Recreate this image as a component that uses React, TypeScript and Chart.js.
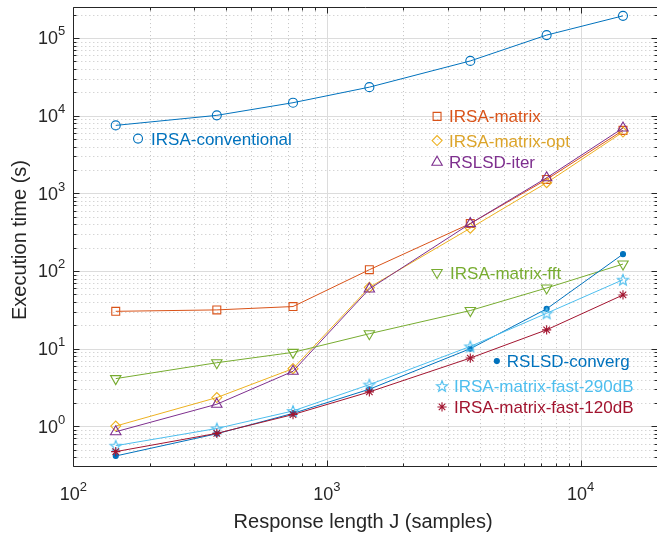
import { useEffect, useRef } from 'react';
import { Chart, registerables } from 'chart.js';
import { drawPoint } from 'chart.js/helpers';

Chart.register(...registerables);

// ---------------- data ----------------
const responseLengths = [147, 368, 735, 1470, 3675, 7350, 14700];

const irsaConventional = [7500, 10100, 14700, 23300, 50700, 109000, 193000];
const irsaMatrix = [30.3, 31.6, 34.9, 104, 408, 1510, 6470];
const irsaMatrixOpt = [1.01, 2.35, 5.54, 61.6, 356, 1370, 6160];
const rslsdIter = [0.853, 1.93, 5.12, 58.8, 408, 1585, 6930];
const irsaMatrixFft = [4.12, 6.6, 8.97, 15.6, 31, 60.5, 123];
const rslsdConverg = [0.416, 0.804, 1.47, 3.01, 10, 32.6, 165];
const irsaMatrixFast290 = [0.564, 0.94, 1.58, 3.45, 10.7, 28.6, 77.3];
const irsaMatrixFast120 = [0.473, 0.813, 1.42, 2.78, 7.58, 17.5, 49.2];

const seriesNames = [
  'IRSA-conventional',
  'IRSA-matrix',
  'IRSA-matrix-opt',
  'RSLSD-iter',
  'IRSA-matrix-fft',
  'RSLSD-converg',
  'IRSA-matrix-fast-290dB',
  'IRSA-matrix-fast-120dB',
];
const seriesValues = [
  irsaConventional,
  irsaMatrix,
  irsaMatrixOpt,
  rslsdIter,
  irsaMatrixFft,
  rslsdConverg,
  irsaMatrixFast290,
  irsaMatrixFast120,
];
const seriesColors = ['#0072BD', '#D95319', '#EDB120', '#7E2F8E', '#77AC30', '#0072BD', '#4DBEEE', '#A2142F'];
const labelColors = ['#0072BD', '#D95319', '#DCA42A', '#7E2F8E', '#77AC30', '#0072BD', '#4DBEEE', '#A2142F'];

// in-plot labels (anchor of the marker glyph, in data coordinates)
const labelX = [180, 2718, 2718, 2718, 2718, 4677, 2843, 2843];
const labelY = [5070, 9795, 4780, 2518, 95.9, 6.93, 3.31, 1.78];
const labelGap = [13, 12, 12, 12, 13, 10, 12, 12];

// axis range and ticks
const xMin = 100;
const xMax = 20000;
const yMin = 0.3;
const yMax = 250000;
const xMajorTicks = [100, 1000, 10000];
const xMinorTicks = [200, 300, 400, 500, 600, 700, 800, 900, 2000, 3000, 4000, 5000, 6000, 7000, 8000, 9000, 20000];
const xTickExponents = [2, 3, 4];
const yMajorTicks = [1, 10, 100, 1000, 10000, 100000];
const yMinorTicks = [
  0.4, 0.5, 0.6, 0.7, 0.8, 0.9,
  2, 3, 4, 5, 6, 7, 8, 9,
  20, 30, 40, 50, 60, 70, 80, 90,
  200, 300, 400, 500, 600, 700, 800, 900,
  2000, 3000, 4000, 5000, 6000, 7000, 8000, 9000,
  20000, 30000, 40000, 50000, 60000, 70000, 80000, 90000,
  200000,
];
const yTickExponents = [0, 1, 2, 3, 4, 5];

const FONT = '"Liberation Sans", Arial, Helvetica, sans-serif';

function makePentagram(color: string, R: number): HTMLCanvasElement {
  const size = 16;
  const c = document.createElement('canvas');
  c.width = size;
  c.height = size;
  const g = c.getContext('2d')!;
  const cx = size / 2;
  const cy = size / 2 + 0.5;
  const r = R * 0.42;
  g.beginPath();
  for (let i = 0; i < 10; i++) {
    const ang = -Math.PI / 2 + (i * Math.PI) / 5;
    const rr = i % 2 === 0 ? R : r;
    const px = cx + rr * Math.cos(ang);
    const py = cy + rr * Math.sin(ang);
    if (i === 0) g.moveTo(px, py);
    else g.lineTo(px, py);
  }
  g.closePath();
  g.strokeStyle = color;
  g.lineWidth = 1.1;
  g.stroke();
  return c;
}

type MarkerSpec = { style: any; radius: number; rotation: number; filled: boolean };

export default function App() {
  const ref = useRef<HTMLCanvasElement | null>(null);

  useEffect(() => {
    const canvas = ref.current;
    if (!canvas) return;

    const markers: MarkerSpec[] = [
      { style: 'circle', radius: 4.5, rotation: 0, filled: false },
      { style: 'rect', radius: 5.6, rotation: 0, filled: false },
      { style: 'rectRot', radius: 5, rotation: 0, filled: false },
      { style: 'triangle', radius: 6, rotation: 0, filled: false },
      { style: 'triangle', radius: 6, rotation: 180, filled: false },
      { style: 'circle', radius: 2.5, rotation: 0, filled: true },
      { style: makePentagram(seriesColors[6], 5.8), radius: 5.5, rotation: 0, filled: false },
      { style: 'star', radius: 4.6, rotation: 0, filled: false },
    ];

    const datasets = seriesNames.map((name, i) => ({
      label: name,
      data: responseLengths.map((x, j) => ({ x, y: seriesValues[i][j] })),
      borderColor: seriesColors[i],
      borderWidth: 1,
      backgroundColor: seriesColors[i],
      pointStyle: markers[i].style,
      pointRadius: markers[i].radius,
      pointRotation: markers[i].rotation,
      pointBorderColor: seriesColors[i],
      pointBackgroundColor: markers[i].filled ? seriesColors[i] : 'rgba(0,0,0,0)',
      pointBorderWidth: 1.1,
      fill: false,
      tension: 0,
      order: seriesNames.length - i,
    }));

    const frame = {
      id: 'matlabFrame',
      beforeDatasetsDraw(chart: any) {
        const { ctx, chartArea: a, scales } = chart;
        const xs = scales.x;
        const ys = scales.y;
        ctx.save();
        ctx.beginPath();
        ctx.rect(a.left, a.top, a.right - a.left, a.bottom - a.top);
        ctx.clip();
        ctx.lineWidth = 1;
        // minor dotted grid
        ctx.strokeStyle = 'rgba(0,0,0,0.24)';
        ctx.setLineDash([1, 3]);
        for (const v of xMinorTicks) {
          const px = Math.round(xs.getPixelForValue(v)) + 0.5;
          ctx.beginPath();
          ctx.moveTo(px, a.top);
          ctx.lineTo(px, a.bottom);
          ctx.stroke();
        }
        for (const v of yMinorTicks) {
          const py = Math.round(ys.getPixelForValue(v)) + 0.5;
          ctx.beginPath();
          ctx.moveTo(a.left, py);
          ctx.lineTo(a.right, py);
          ctx.stroke();
        }
        // major solid grid
        ctx.setLineDash([]);
        ctx.strokeStyle = '#dcdcdc';
        for (const v of xMajorTicks) {
          const px = Math.round(xs.getPixelForValue(v)) + 0.5;
          ctx.beginPath();
          ctx.moveTo(px, a.top);
          ctx.lineTo(px, a.bottom);
          ctx.stroke();
        }
        for (const v of yMajorTicks) {
          const py = Math.round(ys.getPixelForValue(v)) + 0.5;
          ctx.beginPath();
          ctx.moveTo(a.left, py);
          ctx.lineTo(a.right, py);
          ctx.stroke();
        }
        ctx.restore();
      },
      afterDatasetsDraw(chart: any) {
        const { ctx, chartArea: a, scales } = chart;
        const xs = scales.x;
        const ys = scales.y;
        const L = Math.round(a.left) + 0.5;
        const R = Math.round(a.right) + 0.5;
        const T = Math.round(a.top) + 0.5;
        const B = Math.round(a.bottom) - 0.5;
        ctx.save();
        ctx.strokeStyle = '#262626';
        ctx.lineWidth = 1;
        ctx.beginPath();
        ctx.rect(L, T, R - L, B - T);
        ctx.stroke();
        // ticks
        const tick = (vals: number[], len: number) => {
          for (const v of vals) {
            const px = Math.round(xs.getPixelForValue(v)) + 0.5;
            ctx.beginPath();
            ctx.moveTo(px, B);
            ctx.lineTo(px, B - len);
            ctx.moveTo(px, T);
            ctx.lineTo(px, T + len);
            ctx.stroke();
          }
        };
        const tickY = (vals: number[], len: number) => {
          for (const v of vals) {
            const py = Math.round(ys.getPixelForValue(v)) + 0.5;
            ctx.beginPath();
            ctx.moveTo(L, py);
            ctx.lineTo(L + len, py);
            ctx.moveTo(R, py);
            ctx.lineTo(R - len, py);
            ctx.stroke();
          }
        };
        tick(xMajorTicks, 6);
        tick(xMinorTicks, 3);
        tickY(yMajorTicks, 6);
        tickY(yMinorTicks, 3);

        // tick labels with superscripts
        ctx.fillStyle = '#262626';
        ctx.textAlign = 'left';
        ctx.textBaseline = 'alphabetic';
        const baseFont = `18px ${FONT}`;
        const supFont = `13px ${FONT}`;
        for (const e of xTickExponents) {
          const px = xs.getPixelForValue(Math.pow(10, e));
          ctx.font = baseFont;
          const w1 = ctx.measureText('10').width;
          ctx.font = supFont;
          const w2 = ctx.measureText(String(e)).width;
          const x0 = px - (w1 + w2) / 2;
          ctx.font = baseFont;
          ctx.fillText('10', x0, a.bottom + 33);
          ctx.font = supFont;
          ctx.fillText(String(e), x0 + w1, a.bottom + 23.5);
        }
        for (const e of yTickExponents) {
          const py = ys.getPixelForValue(Math.pow(10, e));
          ctx.font = baseFont;
          const w1 = ctx.measureText('10').width;
          ctx.font = supFont;
          const w2 = ctx.measureText(String(e)).width;
          const x0 = a.left - 8 - (w1 + w2);
          ctx.font = baseFont;
          ctx.fillText('10', x0, py + 6.4);
          ctx.font = supFont;
          ctx.fillText(String(e), x0 + w1, py - 2.6);
        }

        // axis titles
        ctx.font = `20px ${FONT}`;
        ctx.textAlign = 'center';
        ctx.fillText('Response length J (samples)', (a.left + a.right) / 2 - 2, 528);
        ctx.save();
        ctx.translate(26, (a.top + a.bottom) / 2 + 3);
        ctx.rotate(-Math.PI / 2);
        ctx.fillText('Execution time (s)', 0, 0);
        ctx.restore();

        // in-plot labels
        ctx.textAlign = 'left';
        ctx.font = `17px ${FONT}`;
        for (let i = 0; i < seriesNames.length; i++) {
          const px = xs.getPixelForValue(labelX[i]);
          const py = ys.getPixelForValue(labelY[i]);
          const m = markers[i];
          ctx.strokeStyle = seriesColors[i];
          ctx.fillStyle = m.filled ? seriesColors[i] : 'rgba(0,0,0,0)';
          ctx.lineWidth = 1.1;
          drawPoint(ctx, { pointStyle: m.style, rotation: m.rotation, radius: m.radius, borderWidth: 1.1 } as any, px, py);
          ctx.fillStyle = labelColors[i];
          ctx.fillText(seriesNames[i], px + labelGap[i], py + 6.1);
        }
        ctx.restore();
      },
    };

    const chart = new Chart(canvas, {
      type: 'line',
      data: { datasets: datasets as any },
      options: {
        animation: false,
        responsive: false,
        devicePixelRatio: 1,
        layout: { padding: { left: 73.3, right: 4, top: 5, bottom: 67 } },
        plugins: { legend: { display: false }, tooltip: { enabled: false } },
        scales: {
          x: { type: 'logarithmic', min: xMin, max: xMax, display: false },
          y: { type: 'logarithmic', min: yMin, max: yMax, display: false },
        },
      },
      plugins: [frame],
    });
    return () => chart.destroy();
  }, []);

  return (
    <div
      style={{
        position: 'fixed',
        left: 0,
        top: 0,
        width: 657,
        height: 534,
        overflow: 'hidden',
        background: '#ffffff',
      }}
    >
      <canvas ref={ref} width={664} height={534} style={{ display: 'block' }} />
    </div>
  );
}
